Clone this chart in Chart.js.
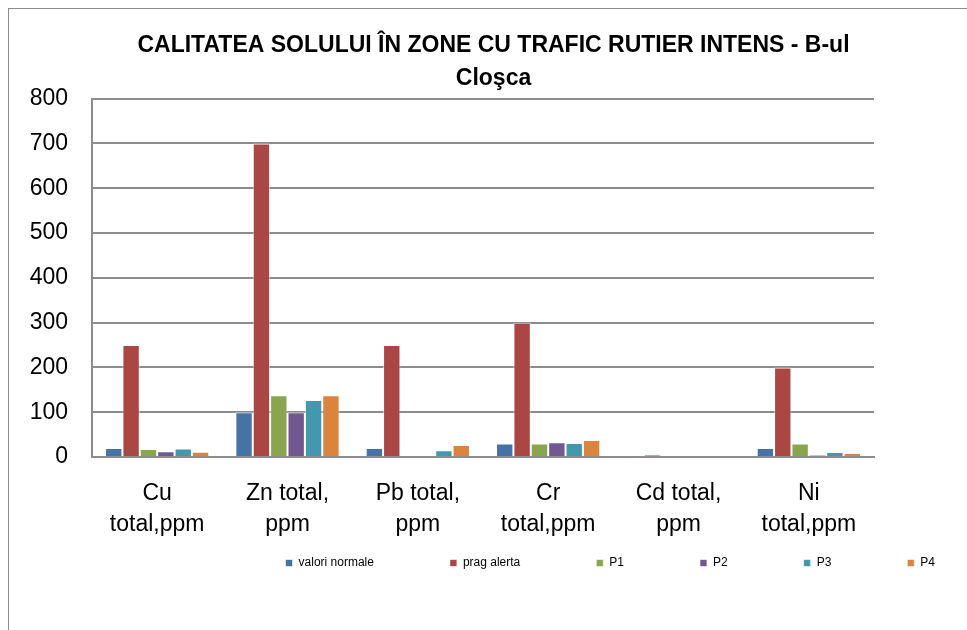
<!DOCTYPE html>
<html>
<head>
    <title>Calitatea solului</title>
    <script src="https://cdn.jsdelivr.net/npm/chart.js"></script>
    <style>
        body {
            margin: 0;
            background-color: #ffffff;
        }
        .frame {
            position: absolute;
            left: 8px;
            top: 8px;
            width: 990px;
            height: 660px;
            border: 1px solid #8c8c8c;
        }
        .wrap {
            position: absolute;
            left: 0;
            top: 0;
            width: 967px;
            height: 630px;
        }
    </style>
</head>
<body>
    <div class="frame"></div>
    <div class="wrap"><canvas id="soilChart" width="967" height="630"></canvas></div>

    <script>
        // Categorii (elemente analizate)
        var categories = [
            ['Cu', 'total,ppm'],
            ['Zn total,', 'ppm'],
            ['Pb total,', 'ppm'],
            ['Cr', 'total,ppm'],
            ['Cd total,', 'ppm'],
            ['Ni', 'total,ppm']
        ];
        var valoriNormale = [20, 100, 20, 30, 1, 20];
        var pragAlerta = [250, 700, 250, 300, 5, 200];
        var p1 = [18, 138, 2, 30, 0, 30];
        var p2 = [13, 100, 0, 33, 0, 4];
        var p3 = [19, 127, 15, 31, 0, 11];
        var p4 = [12, 138, 27, 38, 0, 9];
        var yTicks = [0, 100, 200, 300, 400, 500, 600, 700, 800];

        var fontFamily = "'Liberation Sans', Arial, sans-serif";

        function makeSet(label, data, color) {
            return {
                label: label,
                data: data,
                backgroundColor: color,
                borderColor: 'rgba(255,255,255,0.6)',
                borderWidth: 1,
                barPercentage: 1,
                categoryPercentage: 0.8,
                yAxisID: 'y'
            };
        }

        // push the legend row to the right, like in the original sheet
        var legendNudge = {
            id: 'legendNudge',
            afterLayout: function(chart) {
                chart.legend.left += 44;
                chart.legend.right += 44;
            }
        };

        var ctx = document.getElementById('soilChart').getContext('2d');
        new Chart(ctx, {
            type: 'bar',
            plugins: [legendNudge],
            data: {
                labels: categories,
                datasets: [
                    makeSet('valori normale', valoriNormale, '#4572A7'),
                    makeSet('prag alerta', pragAlerta, '#AA4643'),
                    makeSet('P1', p1, '#89A54E'),
                    makeSet('P2', p2, '#71588F'),
                    makeSet('P3', p3, '#4198AF'),
                    makeSet('P4', p4, '#DB843D')
                ]
            },
            options: {
                responsive: false,
                animation: false,
                layout: {
                    padding: { left: 20, right: 0, top: 0, bottom: 51 }
                },
                plugins: {
                    title: {
                        display: true,
                        text: ['CALITATEA SOLULUI ÎN ZONE CU TRAFIC RUTIER INTENS - B-ul', 'Cloşca'],
                        color: '#000000',
                        font: { family: fontFamily, size: 23, weight: 'bold', lineHeight: 1.45 },
                        padding: { top: 29, bottom: 3 }
                    },
                    legend: {
                        position: 'bottom',
                        align: 'end',
                        labels: {
                            boxWidth: 7,
                            boxHeight: 7,
                            padding: 76,
                            color: '#000000',
                            font: { family: fontFamily, size: 12 }
                        }
                    },
                    tooltip: { enabled: false }
                },
                scales: {
                    x: {
                        grid: { display: false },
                        border: { display: true, color: '#8c8c8c', width: 2 },
                        afterFit: function(scale) {
                            scale.height = 24;
                            // labels hang below the short axis box, so don't clip them
                            scale._computeLabelArea = function() { return undefined; };
                        },
                        ticks: {
                            color: '#000000',
                            padding: 13,
                            maxRotation: 0,
                            font: { family: fontFamily, size: 23, lineHeight: 1.35 }
                        }
                    },
                    y: {
                        min: 0,
                        max: 800,
                        afterBuildTicks: function(scale) {
                            scale.ticks = yTicks.map(function(v) { return { value: v }; });
                        },
                        afterFit: function(scale) {
                            scale.width = 72;
                        },
                        grid: { color: '#8c8c8c', lineWidth: 2, drawTicks: false },
                        border: { display: true, color: '#8c8c8c', width: 2 },
                        ticks: {
                            color: '#000000',
                            padding: 24,
                            font: { family: fontFamily, size: 23 }
                        }
                    },
                    // empty axis that only keeps space on the right of the plot
                    yRight: {
                        position: 'right',
                        grid: { display: false },
                        border: { display: false },
                        ticks: { display: false },
                        afterFit: function(scale) {
                            scale.width = 93;
                        }
                    }
                }
            }
        });
    </script>
</body>
</html>
